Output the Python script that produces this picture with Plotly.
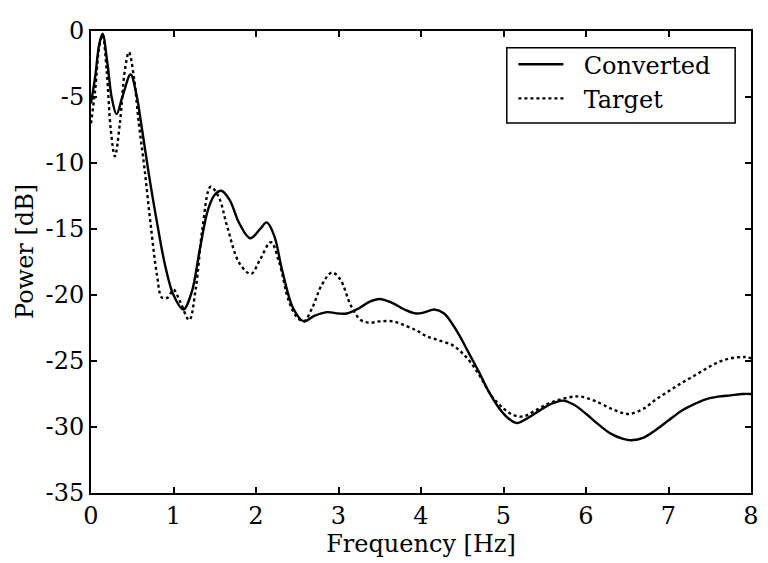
import plotly.graph_objects as go

conv_x = [0, 0.05, 0.1, 0.14, 0.2, 0.25, 0.31, 0.38, 0.48, 0.55, 0.62, 0.7, 0.8, 0.9, 1.0, 1.12, 1.22, 1.32, 1.42, 1.5,
          1.58, 1.68, 1.8, 1.93, 2.05, 2.13, 2.22, 2.32, 2.45, 2.58, 2.7, 2.86, 3.0, 3.1, 3.25, 3.38, 3.5, 3.65, 3.8,
          3.94, 4.05, 4.16, 4.28, 4.38, 4.46, 4.58, 4.7, 4.82, 4.95, 5.05, 5.16, 5.3, 5.45, 5.6, 5.72, 5.85, 6.0,
          6.15, 6.3, 6.45, 6.55, 6.7, 6.85, 7.0, 7.15, 7.3, 7.45, 7.6, 7.75, 7.9, 8.0]
conv_y = [-5.5, -3.5, -1.0, -0.2, -2.5, -5.0, -6.3, -5.0, -3.3, -4.8, -7.5, -10.8, -14.5, -17.8, -20.0, -21.1, -19.8,
          -16.5, -13.5, -12.4, -12.1, -12.8, -14.6, -15.7, -15.0, -14.5, -15.5, -18.2, -21.0, -22.0, -21.6, -21.3,
          -21.4, -21.4, -21.0, -20.5, -20.3, -20.6, -21.1, -21.4, -21.3, -21.1, -21.4, -22.2, -23.0, -24.4, -25.8,
          -27.3, -28.6, -29.3, -29.7, -29.3, -28.7, -28.2, -28.0, -28.3, -29.0, -29.8, -30.5, -30.9, -31.0, -30.8,
          -30.2, -29.5, -28.8, -28.3, -27.9, -27.7, -27.6, -27.5, -27.5]

targ_x = [0, 0.05, 0.1, 0.14, 0.19, 0.24, 0.29, 0.35, 0.41, 0.46, 0.52, 0.58, 0.65, 0.72, 0.8, 0.86, 0.93, 1.0, 1.08,
          1.19, 1.27, 1.35, 1.45, 1.55, 1.65, 1.8, 1.94, 2.05, 2.18, 2.28, 2.4, 2.5, 2.58, 2.68, 2.8, 2.92, 3.02,
          3.15, 3.27, 3.38, 3.5, 3.66, 3.8, 3.95, 4.06, 4.2, 4.38, 4.5, 4.6, 4.72, 4.85, 5.0, 5.12, 5.24, 5.4, 5.55,
          5.7, 5.85, 5.94, 6.1, 6.3, 6.45, 6.54, 6.7, 6.85, 7.0, 7.15, 7.29, 7.45, 7.6, 7.75, 7.92, 8.0]
targ_y = [-7.0, -4.5, -1.2, -0.3, -3.0, -7.5, -9.5, -7.0, -3.0, -1.6, -3.5, -7.0, -10.5, -14.5, -18.5, -20.2, -20.2,
          -19.6, -20.5, -21.9, -19.5, -15.0, -11.8, -12.6, -14.8, -17.6, -18.4, -17.3, -16.0, -17.5, -20.5, -21.7,
          -22.0, -21.0, -19.2, -18.3, -18.8, -20.8, -21.9, -22.1, -22.0, -22.0, -22.3, -22.7, -23.1, -23.4, -23.8,
          -24.4, -25.1, -26.2, -27.6, -28.6, -29.1, -29.2, -28.7, -28.2, -27.9, -27.7, -27.7, -28.0, -28.6, -28.95,
          -29.0, -28.6, -27.9, -27.3, -26.7, -26.2, -25.6, -25.1, -24.8, -24.7, -24.8]

x_ticks = [0, 1, 2, 3, 4, 5, 6, 7, 8]
x_ticktext = ["0", "1", "2", "3", "4", "5", "6", "7", "8"]
y_ticks = [0, -5, -10, -15, -20, -25, -30, -35]
y_ticktext = ["0", "-5", "-10", "-15", "-20", "-25", "-30", "-35"]

FONT = "DejaVu Serif, Liberation Serif, serif"
FS = 24
NB = "\u00a0\u00a0"

fig = go.Figure()
fig.add_trace(go.Scatter(x=conv_x, y=conv_y, mode="lines", name=NB + "Converted",
                         line=dict(color="black", width=2.4, shape="spline", smoothing=1.0)))
fig.add_trace(go.Scatter(x=targ_x, y=targ_y, mode="lines", name=NB + "Target",
                         line=dict(color="black", width=2.4, dash="dot", shape="spline", smoothing=1.0)))

axis_common = dict(showline=True, linecolor="black", linewidth=2, mirror="ticks", ticks="inside",
                   ticklen=6, tickwidth=2, tickcolor="black", showgrid=False, zeroline=False,
                   tickfont=dict(family=FONT, size=FS, color="black"))

# legend frame (paper coordinates of the plot area)
fig.add_shape(type="rect", xref="paper", yref="paper", x0=0.630, x1=0.976, y0=0.801, y1=0.964,
              line=dict(color="black", width=1.5), fillcolor="rgba(0,0,0,0)", layer="above")

# y-axis title as annotation (slightly above centre, as in the reference)
fig.add_annotation(text="Power [dB]", xref="paper", yref="paper", x=0, y=0.5, xanchor="center",
                   yanchor="middle", xshift=-66, yshift=10, textangle=-90, showarrow=False,
                   font=dict(family=FONT, size=FS, color="black"))

fig.update_layout(
    width=760, height=555,
    margin=dict(l=83, r=9, t=18, b=70),
    paper_bgcolor="white", plot_bgcolor="white",
    font=dict(family=FONT, size=FS, color="black"),
    xaxis=dict(range=[0, 8], tickvals=x_ticks, ticktext=x_ticktext,
               title=dict(text="Frequency [Hz]", standoff=4, font=dict(family=FONT, size=FS, color="black")),
               **axis_common),
    yaxis=dict(range=[-35, 0], tickvals=y_ticks, ticktext=y_ticktext, **axis_common),
    legend=dict(x=0.640, y=0.976, xanchor="left", yanchor="top", borderwidth=0,
                bgcolor="rgba(0,0,0,0)", font=dict(family=FONT, size=FS, color="black"),
                itemwidth=45, tracegroupgap=0),
    showlegend=True,
)

fig.write_html("out.html")
